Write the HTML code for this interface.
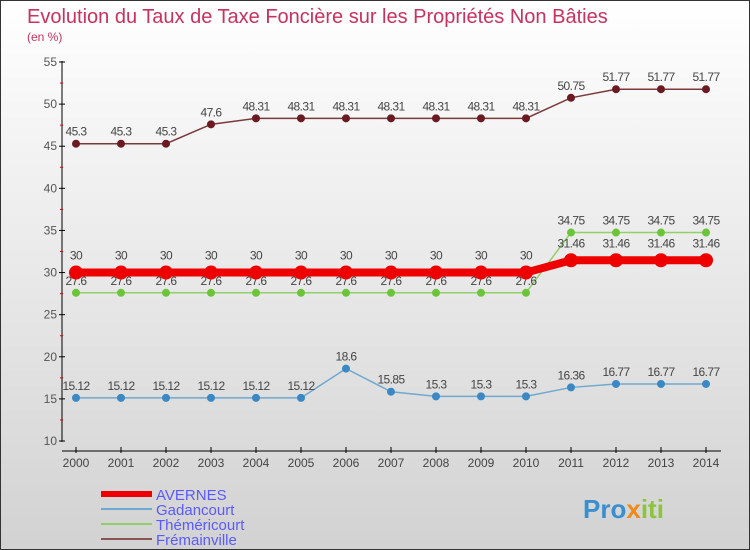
<!DOCTYPE html>
<html><head><meta charset="utf-8"><style>
body{margin:0}
#c{width:750px;height:550px;position:relative;background:linear-gradient(#ffffff,#d2d2d2);border:1px solid #333;box-sizing:border-box;overflow:hidden;font-family:"Liberation Sans",sans-serif}
</style></head><body>
<div id="c">
<svg id="s" width="750" height="550"></svg>
</div>
<script>
const years=["2000","2001","2002","2003","2004","2005","2006","2007","2008","2009","2010","2011","2012","2013","2014"];
const avernes=[30,30,30,30,30,30,30,30,30,30,30,31.46,31.46,31.46,31.46];
const gadancourt=[15.12,15.12,15.12,15.12,15.12,15.12,18.6,15.85,15.3,15.3,15.3,16.36,16.77,16.77,16.77];
const themericourt=[27.6,27.6,27.6,27.6,27.6,27.6,27.6,27.6,27.6,27.6,27.6,34.75,34.75,34.75,34.75];
const fremainville=[45.3,45.3,45.3,47.6,48.31,48.31,48.31,48.31,48.31,48.31,48.31,50.75,51.77,51.77,51.77];
const yTicks=[10,15,20,25,30,35,40,45,50,55];
const NS="http://www.w3.org/2000/svg",s=document.getElementById('s');
const x=i=>75+i*45, y=v=>440-(v-10)*(379/45);
function el(t,a,txt){const e=document.createElementNS(NS,t);for(const k in a)e.setAttribute(k,a[k]);if(txt!=null)e.textContent=txt;s.appendChild(e);return e;}
let e;
e=el('text',{x:26,y:22,'font-size':20,fill:'#c8325e','font-weight':'normal'},'Evolution du Taux de Taxe Foncière sur les Propriétés Non Bâties');

e=el('text',{x:26,y:40,'font-size':12,fill:'#c8325e'},'(en %)');

e=el('line',{x1:61,y1:60,x2:61,y2:441,stroke:'#000'});

e=el('line',{x1:61,y1:450,x2:720,y2:450,stroke:'#000'});

yTicks.forEach(v=>{
 el('line',{x1:58,y1:y(v),x2:64,y2:y(v),stroke:'#000'});
 e=el('text',{x:56,y:y(v)+4,'font-size':12,fill:'#555','text-anchor':'end'},v);
 
 if(v<55) el('line',{x1:59,y1:y(v+2.5),x2:62,y2:y(v+2.5),stroke:'#d00'});
});
years.forEach((yr,i)=>{
 el('line',{x1:x(i),y1:446,x2:x(i),y2:452,stroke:'#000'});
 e=el('text',{x:x(i),y:466,'font-size':12,fill:'#444','text-anchor':'middle'},yr);
 
});
function series(name,data,color,dot,w,r,off){
 const p=data.map((v,i)=>x(i)+','+y(v)).join(' ');
 e=el('polyline',{points:p,fill:'none',stroke:color,'stroke-width':w});
 
 data.forEach((v,i)=>{
  e=el('circle',{cx:x(i),cy:y(v),r:r,fill:dot,stroke:dot});
  
  e=el('text',{x:x(i),y:y(v)+off,'font-size':12,fill:'#444','text-anchor':'middle','letter-spacing':'-0.6'},v);
  
 });
}
series('fremainville',fremainville,'#7a3a3a','#6b1a22',1.5,3.5,-8);
series('themericourt',themericourt,'#8fd06a','#6cc43a',1.5,3.5,-8);
series('gadancourt',gadancourt,'#6fa8d0','#3a88c4',1.5,3.5,-8);
series('avernes',avernes,'#ee0000','#ee0000',8,6.5,-13);
const leg=[['AVERNES','#ee0000',6],['Gadancourt','#6fa8d0',2],['Théméricourt','#8fd06a',2],['Frémainville','#8a5555',2]];
leg.forEach((l,i)=>{
 const yy=493+i*15;
 e=el('line',{x1:100,y1:yy,x2:151,y2:yy,stroke:l[1],'stroke-width':l[2]});
 
 e=el('text',{x:155,y:yy+6,'font-size':15,fill:'#5a5aff'},l[0]);
 
});
e=el('text',{x:582,y:517,'font-size':26,'font-weight':'bold',fill:'#3a8fd0'});

e.innerHTML='Pro<tspan fill="#f08a1a">x</tspan><tspan fill="#8cc43a">iti</tspan>';
</script>
</body></html>
